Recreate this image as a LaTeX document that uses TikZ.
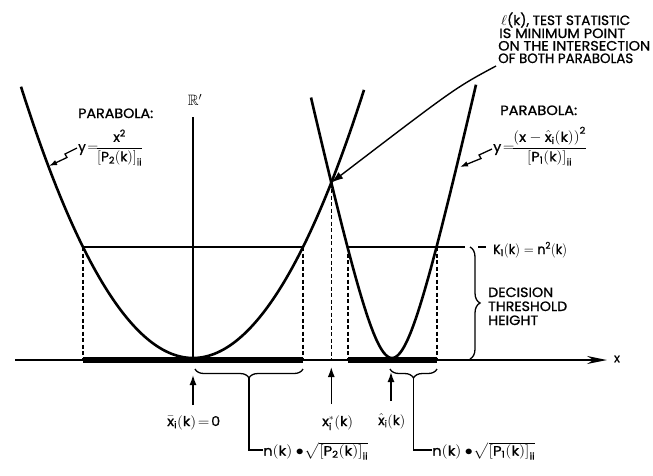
\documentclass[tikz,border=0pt]{standalone}
\usepackage{amsmath,amssymb,graphicx}
\usepackage{fontspec}
\setmainfont{Poppins}[FakeBold=1]
\usetikzlibrary{arrows.meta,decorations.pathreplacing,intersections,calc}
\newcommand\fw[2]{\resizebox{#1}{\height}{#2}}
\begin{document}
\begin{tikzpicture}[x=1pt,y=-1pt,
  curve/.style={line width=2.6pt},
  axisln/.style={line width=1.6pt},
  thinln/.style={line width=1.3pt},
  dashln/.style={line width=1.1pt,dash pattern=on 4pt off 2.5pt},
  thickseg/.style={line width=5.5pt},
  bracestyle/.style={line width=1.3pt,decorate,decoration={brace,amplitude=9pt}},
  upar/.style={line width=1.4pt,-{Latex[length=10pt,width=7pt]}},
  zz/.style={line width=1.3pt,-{Latex[length=8pt,width=5.5pt]}},
  lbl/.style={font=\fontsize{13.5}{15}\selectfont,inner sep=0pt},
]
\useasboundingbox (0,0) rectangle (653,475);

% key coordinates
\coordinate (A0) at (15,360);
\coordinate (A1) at (607,360);
\coordinate (TL) at (83,247);
\coordinate (TR) at (303,247);
\coordinate (UL) at (348,247);
\coordinate (UR) at (437,247);
\coordinate (TE) at (465,247);
\coordinate (BT) at (470,247);
\coordinate (BB) at (470,359);

% curves
\draw[curve,name path=left] plot[domain=21:364,samples=140,smooth,variable=\t]
  (\t,{358-(0.09576*(\t-193))^2});
\draw[curve,name path=right] plot[domain=311:476,samples=140,smooth,variable=\t]
  (\t,{358-126.4*(sqrt(1+((\t-392)/28)^2)-1)});
\path[name intersections={of=left and right,by=I}];

% threshold line
\draw[thinln] (TL) -- (TR);
\draw[thinln] (UL) -- (TE);

% dashed verticals
\foreach \p in {TL,TR,UL,UR}{\draw[dashln] (\p) -- (\p |- A0);}
\draw[dashln] (I) -- (I |- A0);

% axis
\draw[axisln,-{Stealth[length=20pt,width=8pt]}] (A0) -- (A1);
\draw[thickseg] (TL |- A0) -- (TR |- A0);
\draw[thickseg] (UL |- A0) -- (UR |- A0);
\node[lbl,font=\fontsize{12}{13}\selectfont] (xlab) at (617,359) {$\mathrm{x}$};

% vertical R' axis
\coordinate (R0) at (193,358);
\coordinate (R1) at (193,117);
\draw[line width=1.8pt] (R0) -- (R1);
\node[lbl,font=\fontsize{15}{16}\selectfont] (Rlab) at (195,100) {$\mathbb{R}'$};

% threshold brace
\draw[bracestyle,decoration={amplitude=10pt}] (BT) -- (BB);
\coordinate (K0) at (478,247);
\node[lbl,anchor=base west] (Klab) at (493,254) {\fw{74pt}{$\mathrm{K_1(k)=n^2(k)}$}};
\draw[thinln] (K0) -- (486,247);
\node[lbl,anchor=base west] (d1) at (488,297) {\fw{65pt}{DECISION}};
\node[lbl,anchor=base west] (d2) at (488,311) {\fw{79pt}{THRESHOLD}};
\node[lbl,anchor=base west] (d3) at (488,325) {\fw{50pt}{HEIGHT}};

% upper right statement
\node[lbl,anchor=base west] (s1) at (501,25) {\fw{129pt}{$\ell$(k), TEST STATISTIC}};
\node[lbl,anchor=base west] (s2) at (499,38) {\fw{126pt}{IS MINIMUM POINT}};
\node[lbl,anchor=base west] (s3) at (498,50.5) {\fw{152pt}{ON THE INTERSECTION}};
\node[lbl,anchor=base west] (s4) at (498,63) {\fw{135pt}{OF BOTH PARABOLAS}};
\coordinate (S0) at (496,66);
\draw[line width=1.4pt,-{Latex[length=12pt,width=8pt]}] (S0) .. controls (455,88) .. (I);

% left parabola label
\node[lbl,anchor=base west] (pl1) at (78,118) {\fw{75pt}{PARABOLA:}};
\node[lbl,anchor=base west] (pl2) at (78,151.5)
  {\fw{65pt}{$\mathrm{y\!=\!}\dfrac{\mathrm{x^2}}{\left[\mathrm{P_2(k)}\right]_{\mathrm{ii}}}$}};
\coordinate (zl0) at (77,148);
\coordinate (zl1) at (49,166);
\draw[zz] (zl0) -- (65,154) -- (67,157.5) -- (zl1);

% right parabola label
\node[lbl,anchor=base west] (pr1) at (500,115) {\fw{77pt}{PARABOLA:}};
\node[lbl,anchor=base west] (pr2) at (493,151.5)
  {\fw{94pt}{$\mathrm{y\!=\!}\dfrac{\left(\mathrm{x}-\hat{\mathrm{x}}_{\mathrm{i}}\mathrm{(k)}\right)^{\mathrm{2}}}{\left[\mathrm{P_1(k)}\right]_{\mathrm{ii}}}$}};
\coordinate (zr0) at (492,149);
\coordinate (zr1) at (460,167);
\draw[zz] (zr0) -- (479,155) -- (481,158.5) -- (zr1);

% bottom markers
\node[lbl,anchor=base west] (xbar) at (167,426) {\fw{53pt}{$\bar{\mathrm{x}}_{\mathrm{i}}\mathrm{(k)\!=\!0}$}};
\node[lbl,anchor=base west] (xst) at (322,426) {\fw{31pt}{$\mathrm{x}_{\mathrm{i}}^{*}\mathrm{(k)}$}};
\node[lbl,anchor=base west] (xht) at (378,425) {\fw{27pt}{$\hat{\mathrm{x}}_{\mathrm{i}}\mathrm{(k)}$}};
\draw[upar] (193,405) -- (193,375);
\draw[upar] (I |- 0,404) -- (I |- 0,367);
\draw[upar] (391,401) -- (391,372);

% lower braces and leaders
\draw[bracestyle] (303,369) -- (195,369);
\draw[bracestyle] (437,369) -- (390,369);
\node[lbl,anchor=base west] (nl) at (263,455.5)
  {\fw{105pt}{$\mathrm{n(k)}\bullet\!\sqrt{\left[\mathrm{P_2(k)}\right]_{\mathrm{ii}}}$}};
\node[lbl,anchor=base west] (nr) at (432,455.5)
  {\fw{103pt}{$\mathrm{n(k)}\bullet\!\sqrt{\left[\mathrm{P_1(k)}\right]_{\mathrm{ii}}}$}};
\draw[thinln] (249,378) |- (nl.west |- 0,450);
\draw[thinln] (413.5,378) |- (nr.west |- 0,450);
\end{tikzpicture}
\end{document}
